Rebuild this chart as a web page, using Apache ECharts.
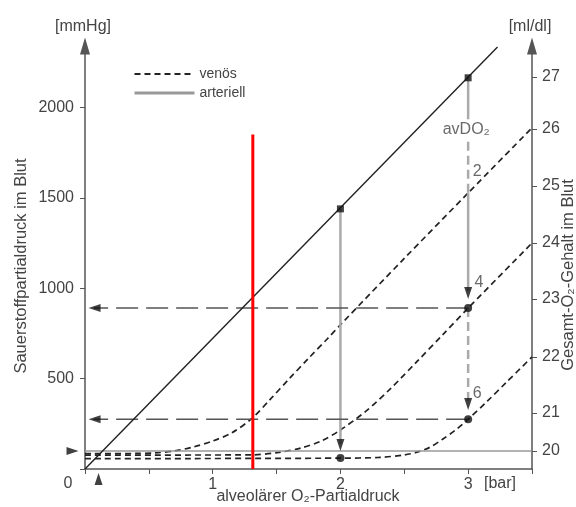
<!DOCTYPE html>
<html>
<head>
<meta charset="utf-8">
<script src="https://cdn.jsdelivr.net/npm/echarts@6/dist/echarts.min.js"></script>
<style>
html, body { margin: 0; padding: 0; background: #fff; }
#chart { width: 576px; height: 507px; }
</style>
</head>
<body>
<div id="chart"></div>
<script>
// alveolaerer O2-Partialdruck [bar] -> O2-Partialdruck im Blut [mmHg]
var diagX = [0, 3.23];
var diagY = [0, 2335];

// venoese Kurven (avDO2 = 2, 4, 6 ml/dl)
var venAX = [0, 0.4, 0.55, 0.7, 0.85, 1.0, 1.15, 1.31, 1.45, 1.6, 1.75, 1.9, 2.0, 2.5, 3.0, 3.5];
var venAY = [85, 86, 89, 100, 122, 155, 200, 282, 385, 500, 612, 722, 798, 1165, 1527, 1887];
var venBX = [0, 1.3, 1.52, 1.7, 1.85, 2.0, 2.2, 2.4, 2.6, 2.8, 3.0, 3.5];
var venBY = [77, 78, 92, 118, 155, 216, 320, 450, 595, 742, 890, 1250];
var venCX = [0, 2.0, 2.3, 2.5, 2.6, 2.7, 2.8, 2.9, 3.0, 3.15, 3.3, 3.5];
var venCY = [57, 60, 64, 78, 93, 120, 165, 215, 275, 375, 480, 620];

// arterielle Senkrechten
var art2X = [2, 2];
var art2Y = [1439, 140];
var art3aY = [2164, 1935];
var art3bY = [1810, 1527];
var art3cY = [1527, 985];
var art3dY = [890, 368];
var baseX = [0, 3.5];
var baseY = [100, 100];

// horizontale Pfeile zur linken Achse
var hArrowY = [890, 275];
var hArrowX = [3, 0.07];

// Punkte
var sqX = [2, 3];
var sqY = [1439, 2164];
var dotX = [3, 3, 2];
var dotY = [890, 275, 61];

// Pfeilspitzen
var arrX = [0.075, 0.075, -0.098, 0.106, 2, 3, 3];
var arrY = [890, 275, 100, -55, 133, 974, 360];
var arrRot = [90, 90, -90, 0, 180, 180, 180];

// Beschriftung avDO2
var noteText = ['avDO\u2082', '2', '4', '6'];
var noteX = [2.985, 3.07, 3.085, 3.07];
var noteY = [1876, 1644, 1029, 415];

// rote Markierung
var redX = [1.314, 1.314];
var redY = [0, 1850];

// rechte Achse: Gesamt-O2-Gehalt
var contentVals = [20, 21, 22, 23, 24, 25, 26, 27];
var contentPos = [100, 310, 620, 941, 1251, 1566, 1882, 2169];

var leftTicks = [0, 500, 1000, 1500, 2000];
var xTicks = [1, 2, 3];

function pts(xs, ys) {
	return xs.map(function(x, i) { return [x, ys[i]]; });
}

var font = 'Liberation Sans, Arial, sans-serif';
var txt = '#444';
var fs = 16;

var chart = echarts.init(document.getElementById('chart'));

var noSym = { color: 'rgba(0,0,0,0)' };
var venStyle = { color: '#222', width: 1.7, type: [6, 4] };
var grayStyle = { color: '#aaa', width: 2.5 };
var grayDash = { color: '#aaa', width: 2.5, type: [9, 5] };

function label(text, x, y, size, rot) {
	return {
		type: 'text', x: x, y: y, rotation: rot || 0,
		style: { text: text, fontSize: size, fontFamily: font, fill: txt, align: 'center', verticalAlign: 'middle' }
	};
}

var option = {
	animation: false,
	textStyle: { fontFamily: font },
	grid: { left: 85, right: 44, top: 46, bottom: 38, outerBoundsMode: 'none' },
	legend: {
		orient: 'vertical',
		left: 128,
		top: 62,
		itemWidth: 60,
		itemHeight: 14,
		itemGap: 5,
		textStyle: { fontSize: 14, color: txt, fontFamily: font },
		data: [
			{ name: 'venös' },
			{ name: 'arteriell', lineStyle: { width: 3, color: '#999' } }
		]
	},
	xAxis: {
		type: 'value',
		min: 0,
		max: 3.5,
		interval: 0.5,
		splitLine: { show: false },
		axisLine: { lineStyle: { color: '#555', width: 1.5 } },
		axisTick: { length: 5, lineStyle: { color: '#555' } },
		axisLabel: {
			margin: 8,
			fontSize: fs,
			color: txt,
			formatter: function(v) { return xTicks.indexOf(v) >= 0 ? String(v) : ''; }
		}
	},
	yAxis: [
		{
			type: 'value',
			min: 0,
			max: 2340,
			interval: 500,
			position: 'left',
			splitLine: { show: false },
			axisLine: { show: true, symbol: ['none', 'triangle'], symbolSize: [10, 17], lineStyle: { color: '#555', width: 1.5 } },
			axisTick: { show: true, length: 5, customValues: leftTicks, lineStyle: { color: '#555' } },
			axisLabel: {
				margin: 11,
				fontSize: fs,
				color: txt,
				formatter: function(v) { return (v > 0 && leftTicks.indexOf(v) >= 0) ? String(v) : ''; }
			}
		},
		{
			type: 'value',
			min: 0,
			max: 2340,
			position: 'right',
			splitLine: { show: false },
			axisLine: { show: true, symbol: ['none', 'triangle'], symbolSize: [10, 17], lineStyle: { color: '#555', width: 1.5 } },
			axisTick: { show: true, length: 5, customValues: contentPos, lineStyle: { color: '#555' } },
			axisLabel: {
				margin: 10,
				fontSize: fs,
				color: txt,
				customValues: contentPos,
				formatter: function(v) {
					var i = contentPos.indexOf(v);
					return i >= 0 ? String(contentVals[i]) : '';
				}
			}
		}
	],
	graphic: [
		label('[mmHg]', 83, 27, fs),
		label('[ml/dl]', 530, 27, fs),
		label('0', 68, 484, fs),
		label('[bar]', 500, 484, fs),
		label('alveolärer O\u2082-Partialdruck', 308, 497, fs),
		label('Sauerstoffpartialdruck im Blut', 21, 266, 16.5, Math.PI / 2),
		label('Gesamt-O\u2082-Gehalt im Blut', 568, 275, 16.5, Math.PI / 2)
	],
	series: [
		{ name: 'venös', type: 'line', data: pts(venAX, venAY), smooth: 0.3, symbol: 'none', silent: true, itemStyle: noSym, lineStyle: venStyle },
		{ name: 'venös', type: 'line', data: pts(venBX, venBY), smooth: 0.3, symbol: 'none', silent: true, itemStyle: noSym, lineStyle: venStyle },
		{ name: 'venös', type: 'line', data: pts(venCX, venCY), smooth: 0.3, symbol: 'none', silent: true, itemStyle: noSym, lineStyle: venStyle },
		{ name: 'arteriell', type: 'line', data: pts(art2X, art2Y), symbol: 'none', silent: true, itemStyle: noSym, lineStyle: grayStyle },
		{ type: 'line', data: pts([3, 3], art3aY), symbol: 'none', silent: true, lineStyle: grayStyle },
		{ type: 'line', data: pts([3, 3], art3bY), symbol: 'none', silent: true, lineStyle: grayDash },
		{ type: 'line', data: pts([3, 3], art3cY), symbol: 'none', silent: true, lineStyle: grayStyle },
		{ type: 'line', data: pts([3, 3], art3dY), symbol: 'none', silent: true, lineStyle: grayDash },
		{ type: 'line', data: pts(baseX, baseY), symbol: 'none', silent: true, lineStyle: { color: '#999', width: 1.5 } },
		{ type: 'line', data: pts(hArrowX, [hArrowY[0], hArrowY[0]]), symbol: 'none', silent: true, lineStyle: { color: '#555', width: 1.5, type: [22, 8] } },
		{ type: 'line', data: pts(hArrowX, [hArrowY[1], hArrowY[1]]), symbol: 'none', silent: true, lineStyle: { color: '#555', width: 1.5, type: [22, 8] } },
		{ type: 'line', data: pts(diagX, diagY), symbol: 'none', silent: true, lineStyle: { color: '#222', width: 1.4 } },
		{ type: 'scatter', data: pts(sqX, sqY), symbol: 'rect', symbolSize: 7, silent: true, itemStyle: { color: '#111' }, z: 5 },
		{ type: 'scatter', data: pts(dotX, dotY), symbol: 'circle', symbolSize: 8, silent: true, itemStyle: { color: '#111' }, z: 5 },
		{
			type: 'scatter', clip: false, silent: true, z: 5,
			data: arrX.map(function(x, i) {
				return { value: [x, arrY[i]], symbolRotate: arrRot[i] };
			}),
			symbol: 'triangle', symbolSize: [8, 12],
			itemStyle: { color: '#111' }
		},
		{
			type: 'scatter', silent: true, symbolSize: 1, z: 6,
			data: noteX.map(function(x, i) { return { value: [x, noteY[i]], name: noteText[i] }; }),
			itemStyle: { color: 'rgba(0,0,0,0)' },
			label: { show: true, position: 'inside', formatter: '{b}', fontSize: fs, color: txt, fontFamily: font }
		},
		{ type: 'line', data: pts(redX, redY), symbol: 'none', silent: true, z: 10, lineStyle: { color: '#ff0000', width: 3 } }
	]
};

chart.setOption(option);
</script>
</body>
</html>
